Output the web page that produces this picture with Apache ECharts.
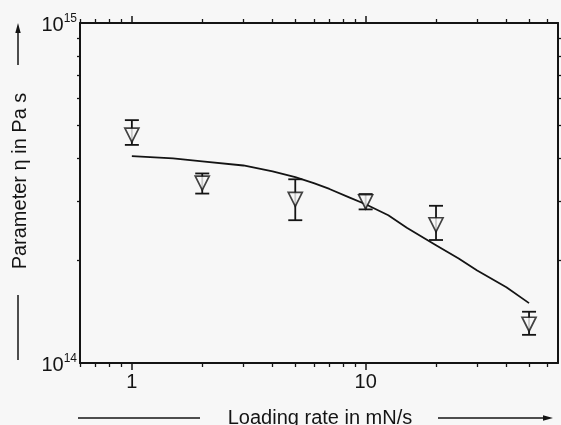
<!DOCTYPE html>
<html>
<head>
<meta charset="utf-8">
<script src="https://cdn.jsdelivr.net/npm/echarts@6/dist/echarts.min.js"></script>
<style>
html,body{margin:0;padding:0;background:#f7f7f7;}
#c{width:561px;height:425px;}
</style>
</head>
<body>
<div id="c"></div>
<script>
// ---- data ----
const loadingRate = [1, 2, 5, 10, 20, 50];
const etaValue = [4.68e14, 3.38e14, 3.03e14, 2.98e14, 2.55e14, 1.30e14];
const etaLow = [4.38e14, 3.15e14, 2.63e14, 2.83e14, 2.30e14, 1.21e14];
const etaHigh = [5.18e14, 3.61e14, 3.47e14, 3.14e14, 2.90e14, 1.415e14];
const fitRate = [1, 1.5, 2, 3, 4, 5, 6, 7, 8.5, 10, 12.5, 15, 20, 25, 30, 40, 50];
const fitEta = [4.06e14, 4.00e14, 3.92e14, 3.81e14, 3.66e14, 3.52e14, 3.38e14, 3.25e14, 3.07e14, 2.93e14, 2.72e14, 2.50e14, 2.22e14, 2.03e14, 1.87e14, 1.67e14, 1.50e14];
const xMajorTicks = [1, 10];
const xMinorTicks = [0.6, 0.7, 0.8, 0.9, 2, 3, 4, 5, 6, 7, 8, 9, 20, 30, 40, 50, 60];
const yMajorTicks = [1e14, 1e15];
const yMinorTicks = [2e14, 3e14, 4e14, 5e14, 6e14, 7e14, 8e14, 9e14];
const xTitle = 'Loading rate in mN/s';
const yTitle = 'Parameter η in Pa s';

const INK = '#141414';
const BG = '#f7f7f7';
const FONT = 'Liberation Sans, Arial, sans-serif';

const chart = echarts.init(document.getElementById('c'), null, {renderer: 'canvas'});

function xAxisBase(pos) {
  return {
    type: 'log', logBase: 10, position: pos, min: 0.6, max: 66.5,
    axisLine: {show: true, onZero: false, lineStyle: {color: INK, width: 2}},
    splitLine: {show: false}, minorTick: {show: false}, minorSplitLine: {show: false},
    axisLabel: {show: false}
  };
}
function yAxisBase(pos) {
  return {
    type: 'log', logBase: 10, position: pos, min: 0.9999e14, max: 1.0001e15,
    axisLine: {show: true, onZero: false, lineStyle: {color: INK, width: 2}},
    splitLine: {show: false}, minorTick: {show: false}, minorSplitLine: {show: false},
    axisLabel: {show: false}
  };
}

const xAxes = [
  Object.assign(xAxisBase('bottom'), {
    axisTick: {show: true, inside: false, length: 7, customValues: xMajorTicks, lineStyle: {color: INK, width: 1.5}},
    axisLabel: {show: true, customValues: xMajorTicks, margin: 9, color: INK, showMinLabel: true, showMaxLabel: true,
      fontFamily: FONT, fontSize: 20, formatter: v => String(Math.round(v))}
  }),
  Object.assign(xAxisBase('bottom'), {
    axisLine: {show: false, onZero: false},
    axisTick: {show: true, inside: false, length: 4, customValues: xMinorTicks, lineStyle: {color: INK, width: 1.3}}
  }),
  Object.assign(xAxisBase('top'), {
    axisTick: {show: true, inside: false, length: 7, customValues: xMajorTicks, lineStyle: {color: INK, width: 1.5}}
  }),
  Object.assign(xAxisBase('top'), {
    axisLine: {show: false, onZero: false},
    axisTick: {show: true, inside: false, length: 4, customValues: xMinorTicks, lineStyle: {color: INK, width: 1.3}}
  })
];

const yAxes = [
  Object.assign(yAxisBase('left'), {
    axisTick: {show: true, inside: false, length: 3, customValues: yMinorTicks, lineStyle: {color: INK, width: 1.3}},
    axisLabel: {show: true, customValues: yMajorTicks, margin: 3, color: INK, showMinLabel: true, showMaxLabel: true,
      hideOverlap: false,
      formatter: v => '{b|10}{s|' + Math.round(Math.log10(v)) + '}',
      rich: {
        b: {fontFamily: FONT, fontSize: 20, color: INK, lineHeight: 20, padding: [4, 0, 0, 0]},
        s: {fontFamily: FONT, fontSize: 12, color: INK, lineHeight: 12, verticalAlign: 'top', padding: [0, 0, 12, 0]}
      }}
  }),
  Object.assign(yAxisBase('right'), {
    axisTick: {show: true, inside: false, length: 3, customValues: yMinorTicks, lineStyle: {color: INK, width: 1.3}}
  })
];

const errData = loadingRate.map((x, i) => [x, etaLow[i], etaHigh[i]]);
const ptData = loadingRate.map((x, i) => [x, etaValue[i]]);
const fitData = fitRate.map((x, i) => [x, fitEta[i]]);

const option = {
  backgroundColor: BG,
  animation: false,
  grid: {left: 80, right: 3, top: 23, bottom: 62, containLabel: false, outerBoundsMode: 'none'},
  xAxis: xAxes,
  yAxis: yAxes,
  series: [
    {
      type: 'line', xAxisIndex: 0, yAxisIndex: 0, data: fitData, smooth: false,
      symbol: 'none', lineStyle: {color: INK, width: 1.8, join: 'round'}, z: 2
    },
    {
      type: 'custom', xAxisIndex: 0, yAxisIndex: 0, data: errData, z: 3,
      renderItem: function (params, api) {
        const x = api.value(0);
        const top = api.coord([x, api.value(2)]);
        const bot = api.coord([x, api.value(1)]);
        const hw = 7;
        const st = {stroke: INK, lineWidth: 1.8};
        return {
          type: 'group',
          children: [
            {type: 'line', shape: {x1: top[0], y1: top[1], x2: bot[0], y2: bot[1]}, style: st},
            {type: 'line', shape: {x1: top[0] - hw, y1: top[1], x2: top[0] + hw, y2: top[1]}, style: st},
            {type: 'line', shape: {x1: bot[0] - hw, y1: bot[1], x2: bot[0] + hw, y2: bot[1]}, style: st}
          ]
        };
      }
    },
    {
      type: 'scatter', xAxisIndex: 0, yAxisIndex: 0, data: ptData, z: 4,
      symbol: 'path://M0,0L14,0L7,13Z', symbolSize: [14, 14],
      itemStyle: {color: BG, borderColor: INK, borderWidth: 1.7}
    }
  ],
  graphic: [
    // y title with arrow
    {type: 'text', x: 20, y: 181, rotation: Math.PI / 2, z: 10,
      style: {text: yTitle, fill: INK, font: '20px ' + FONT, align: 'center', verticalAlign: 'middle'}},
    {type: 'line', shape: {x1: 18, y1: 295, x2: 18, y2: 360}, style: {stroke: INK, lineWidth: 1.5}},
    {type: 'line', shape: {x1: 18, y1: 65, x2: 18, y2: 30}, style: {stroke: INK, lineWidth: 1.5}},
    {type: 'polygon', shape: {points: [[18, 23], [15.3, 33], [20.7, 33]]}, style: {fill: INK}},
    // x title with arrow
    {type: 'text', x: 320, y: 418, z: 10,
      style: {text: xTitle, fill: INK, font: '20px ' + FONT, align: 'center', verticalAlign: 'middle'}},
    {type: 'line', shape: {x1: 78, y1: 418, x2: 200, y2: 418}, style: {stroke: INK, lineWidth: 1.5}},
    {type: 'line', shape: {x1: 438, y1: 418, x2: 546, y2: 418}, style: {stroke: INK, lineWidth: 1.5}},
    {type: 'polygon', shape: {points: [[553, 418], [543, 415.3], [543, 420.7]]}, style: {fill: INK}}
  ]
};
chart.setOption(option);
</script>
</body>
</html>
